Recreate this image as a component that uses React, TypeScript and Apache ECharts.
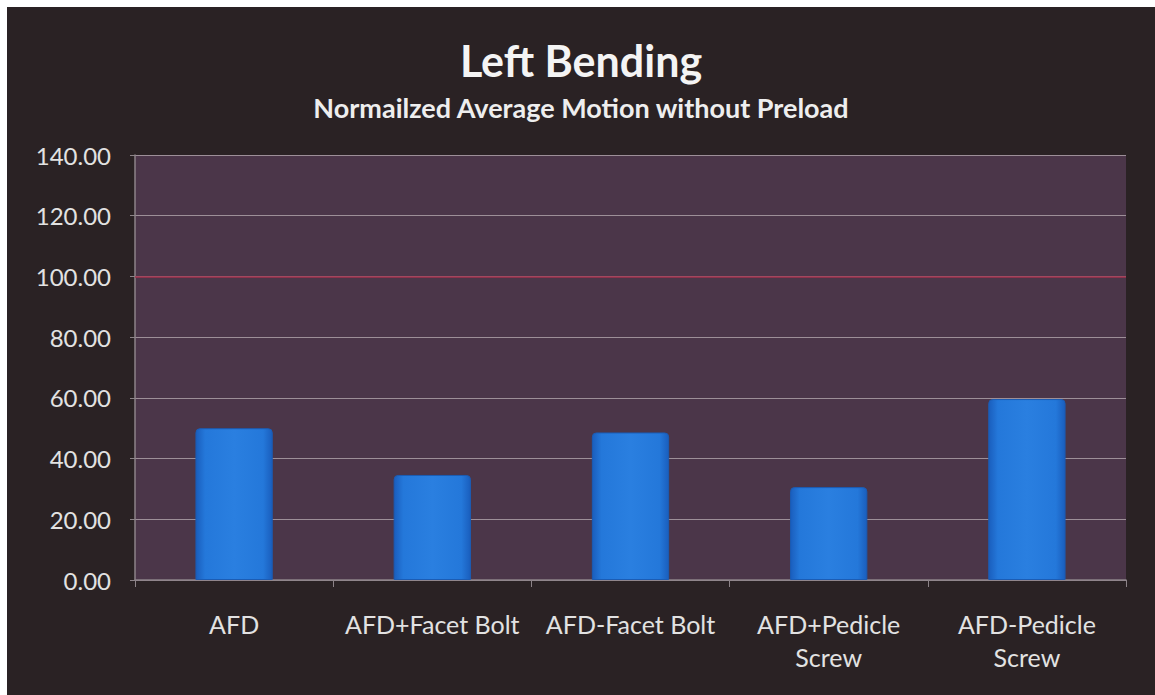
import React, { useEffect, useRef } from "react";
import * as echarts from "echarts";

const categories = ["AFD", "AFD+Facet Bolt", "AFD-Facet Bolt", "AFD+Pedicle\nScrew", "AFD-Pedicle\nScrew"];
const values = [50.0, 34.6, 48.6, 30.6, 59.6];
const yTicks = [0, 20, 40, 60, 80, 100, 120, 140];
const referenceLine = [100];

const FONT = "Lato, 'Open Sans', sans-serif";

export default function App() {
  const ref = useRef<HTMLDivElement>(null);
  useEffect(() => {
    if (!ref.current) return;
    const chart = echarts.init(ref.current, undefined, { renderer: "svg" });
    chart.setOption({
      animation: false,
      backgroundColor: "#2a2224",
      title: [
        {
          text: "Left Bending",
          left: "center",
          top: 27,
          textStyle: { color: "#f4f4f4", fontFamily: FONT, fontWeight: "bold", fontSize: 43 },
        },
        {
          text: "Normailzed Average Motion without Preload",
          left: "center",
          top: 82,
          textStyle: { color: "#eeeeee", fontFamily: FONT, fontWeight: "bold", fontSize: 27 },
        },
      ],
      grid: {
        left: 128,
        top: 148,
        right: 29,
        bottom: 115,
        show: true,
        backgroundColor: "#4b3649",
        borderWidth: 0,
      },
      xAxis: {
        type: "category",
        data: categories,
        axisLine: { lineStyle: { color: "#8c8388", width: 1.5 } },
        axisTick: { show: true, length: 7, alignWithLabel: false, lineStyle: { color: "#8c8388" } },
        axisLabel: {
          color: "#e2e2e2",
          fontFamily: FONT,
          fontSize: 25,
          lineHeight: 33,
          margin: 27,
          interval: 0,
        },
      },
      yAxis: {
        type: "value",
        min: yTicks[0],
        max: yTicks[yTicks.length - 1],
        interval: 20,
        axisLine: { show: true, lineStyle: { color: "#8c8388", width: 1.5 } },
        axisTick: { show: true, length: 5, lineStyle: { color: "#8c8388" } },
        axisLabel: {
          color: "#e2e2e2",
          fontFamily: FONT,
          fontSize: 24,
          margin: 24,
          formatter: (v: number) => v.toFixed(2),
        },
        splitLine: { show: true, lineStyle: { color: "#9d8f98", width: 1 } },
      },
      series: [
        {
          type: "bar",
          data: values,
          barWidth: "39%",
          itemStyle: {
            color: new echarts.graphic.LinearGradient(0, 0, 1, 0, [
              { offset: 0, color: "#1a5ebd" },
              { offset: 0.12, color: "#2478da" },
              { offset: 0.5, color: "#2a7fe0" },
              { offset: 0.88, color: "#2478da" },
              { offset: 1, color: "#1a5ebd" },
            ]),
            borderColor: "#1b5cb4",
            borderWidth: 1,
            borderRadius: [4, 4, 0, 0],
          },
          markLine: {
            silent: true,
            symbol: "none",
            label: { show: false },
            lineStyle: { color: "#a3304c", type: "solid", width: 1.5 },
            data: referenceLine.map((y) => ({ yAxis: y })),
          },
        },
      ],
    });
    return () => chart.dispose();
  }, []);
  return (
    <div style={{ position: "fixed", left: 0, top: 0, width: 1155, height: 695, background: "#ffffff" }}>
      <div ref={ref} style={{ position: "absolute", left: 7, top: 7, width: 1148, height: 688 }} />
    </div>
  );
}
